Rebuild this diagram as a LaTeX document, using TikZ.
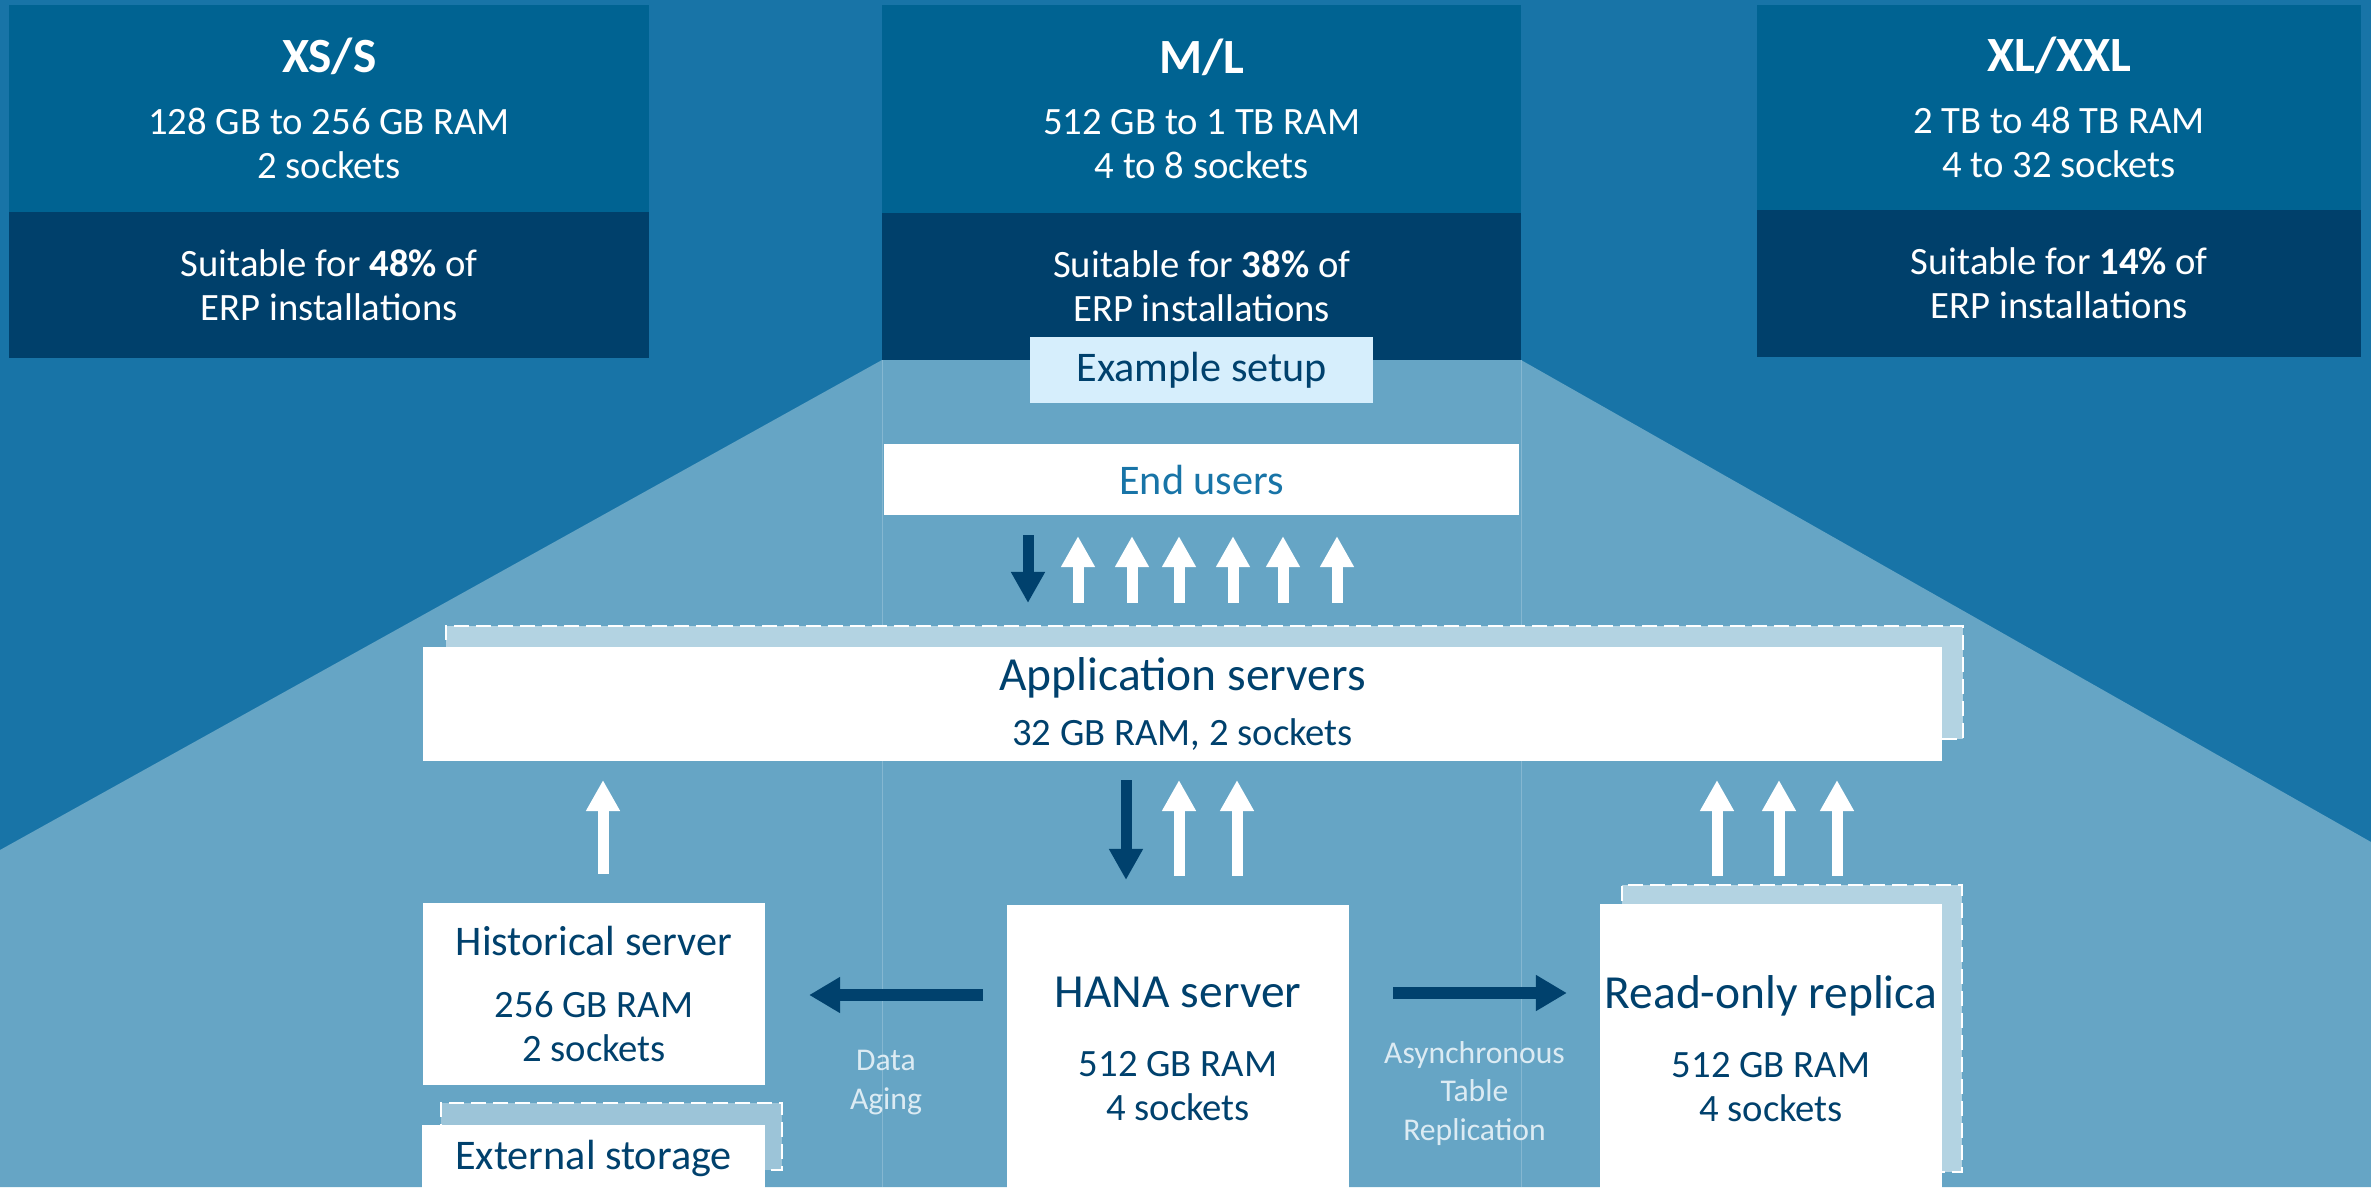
\documentclass[tikz,border=0pt]{standalone}
\usepackage{fontspec}
\setmainfont{Carlito}
\usetikzlibrary{positioning,arrows.meta}

\definecolor{bgblue}{HTML}{1874A7}
\definecolor{funnel}{HTML}{66A5C5}
\definecolor{sizetop}{HTML}{006392}
\definecolor{sizebot}{HTML}{00406B}
\definecolor{navy}{HTML}{00416D}
\definecolor{backbox}{HTML}{B3D3E2}
\definecolor{extback}{HTML}{9CC4D8}
\definecolor{setupfill}{HTML}{D6EEFC}
\definecolor{notecol}{HTML}{DCEBF3}

\begin{document}
\begin{tikzpicture}[x=0.01cm,y=-0.01cm,
    sizehead/.style={fill=sizetop, text=white, align=center, inner sep=0pt, outer sep=0pt, anchor=north west, font=\fontsize{11}{12.5}\selectfont},
    sizefoot/.style={fill=sizebot, text=white, align=center, inner sep=0pt, outer sep=0pt, font=\fontsize{11}{12.5}\selectfont},
    srv/.style={fill=white, text=navy, align=center, inner sep=0pt, outer sep=0pt, font=\fontsize{11}{12.5}\selectfont},
    srvback/.style={fill=backbox, draw=white, line width=0.02cm, dash pattern=on 0.15cm off 0.07cm, inner sep=0pt, outer sep=0pt},
    uparr/.style={draw=white, line width=0.11cm, -{Triangle[width=0.32cm,length=0.31cm]}},
    downarr/.style={draw=navy, line width=0.11cm, -{Triangle[width=0.32cm,length=0.31cm]}},
    sidearr/.style={draw=navy, line width=0.12cm, -{Triangle[width=0.34cm,length=0.31cm]}},
    note/.style={text=notecol, align=center, inner sep=0pt, font=\fontsize{9}{11}\selectfont}]
    \useasboundingbox (0,0) rectangle (2371,1187);
    \clip (0,0) rectangle (2371,1187);
    \fill[bgblue] (0,0) rectangle (2371,1187);
    \fill[funnel] (0,850) -- (882,360) -- (1521,360) -- (2371,842) -- (2371,1187) -- (0,1187) -- cycle;
    \draw[funnel!80!white, line width=0.01cm] (882,360) -- (882,1187) (1521,360) -- (1521,1187);

    \node [sizehead, minimum width=6.4cm, minimum height=2.07cm] (xshead) at (9,5) {{\fontsize{14}{17}\bfseries XS/S}\\[5pt]128 GB to 256 GB RAM\\2 sockets};
    \node [sizefoot, minimum width=6.4cm, minimum height=1.46cm, below=0pt of xshead] (xsfoot) {Suitable for \textbf{48\%} of\\ERP installations};
    \node [sizehead, minimum width=6.39cm, minimum height=2.08cm] (mlhead) at (882,5) {{\fontsize{14}{17}\bfseries M/L}\\[5pt]512 GB to 1 TB RAM\\4 to 8 sockets};
    \node [sizefoot, minimum width=6.39cm, minimum height=1.47cm, below=0pt of mlhead] (mlfoot) {Suitable for \textbf{38\%} of\\ERP installations};
    \node [sizehead, minimum width=6.04cm, minimum height=2.05cm] (xlhead) at (1757,5) {{\fontsize{14}{17}\bfseries XL/XXL}\\[5pt]2 TB to 48 TB RAM\\4 to 32 sockets};
    \node [sizefoot, minimum width=6.04cm, minimum height=1.47cm, below=0pt of xlhead] (xlfoot) {Suitable for \textbf{14\%} of\\ERP installations};

    \node [fill=setupfill, text=navy, minimum width=3.43cm, minimum height=0.66cm, font=\fontsize{12}{14}\selectfont, below=-0.24cm of mlfoot] (setup) {Example setup};
    \node [fill=white, text=bgblue, minimum width=6.35cm, minimum height=0.71cm, font=\fontsize{12}{14}\selectfont, below=0.40cm of setup] (users) {End users};

    \node [srvback, minimum width=15.17cm, minimum height=1.13cm] (appback) at (1204.5,682.5) {};
    \node [srv, minimum width=15.19cm, minimum height=1.14cm] (app) at ([xshift=-0.22cm,yshift=-0.215cm]appback.center) {{\fontsize{13.5}{16}\selectfont Application servers}\\[3pt]32 GB RAM, 2 sockets};

    \node [srv, minimum width=3.42cm, minimum height=1.82cm] (hist) at (594,994) {{\fontsize{12}{14}\selectfont Historical server}\\[5pt]256 GB RAM\\2 sockets};
    \node [srvback, fill=extback, minimum width=3.41cm, minimum height=0.67cm] (extback) at (611.5,1136.5) {};
    \node [srv, minimum width=3.43cm, minimum height=0.67cm, font=\fontsize{12}{14}\selectfont] (ext) at ([xshift=-0.18cm,yshift=-0.22cm]extback.center) {External storage};

    \node [srv, minimum width=3.42cm, minimum height=2.88cm] (hana) at (1178,1049) {{\fontsize{13.5}{16}\selectfont HANA server}\\[7pt]512 GB RAM\\4 sockets};
    \node [srvback, minimum width=3.40cm, minimum height=2.87cm] (repback) at (1792,1028.5) {};
    \node [srv, minimum width=3.42cm, minimum height=2.88cm] (rep) at ([xshift=-0.21cm,yshift=-0.20cm]repback.center) {{\fontsize{13.5}{16}\selectfont Read-only replica}\\[7pt]512 GB RAM\\4 sockets};

    \draw [downarr, shorten <=0.19cm, shorten >=0.44cm] (users.south -| 1028,0) -- (app.north -| 1028,0);
    \foreach \x in {1078,1132,1179,1233,1283,1337}
        \draw [uparr, shorten <=0.44cm, shorten >=0.20cm] (app.north -| \x,0) -- (users.south -| \x,0);

    \draw [uparr, shorten <=0.29cm, shorten >=0.19cm] (hist.north -| 603,0) -- (app.south -| 603,0);
    \draw [downarr, shorten <=0.19cm, shorten >=0.25cm] (app.south -| 1126,0) -- (hana.north -| 1126,0);
    \foreach \x in {1179,1237}
        \draw [uparr, shorten <=0.29cm, shorten >=0.19cm] (hana.north -| \x,0) -- (app.south -| \x,0);
    \foreach \x in {1717,1779,1837}
        \draw [uparr, shorten <=0.285cm, shorten >=0.19cm] (rep.north -| \x,0) -- (app.south -| \x,0);

    \draw [sidearr, shorten <=0.24cm, shorten >=0.44cm] (hana.west |- 0,995) -- node [note, below=0.49cm] {Data\\Aging} (hist.east |- 0,995);
    \draw [sidearr, shorten <=0.44cm, shorten >=0.33cm] (hana.east |- 0,993) -- node [note, below=0.42cm] {Asynchronous\\Table\\Replication} (rep.west |- 0,993);
\end{tikzpicture}
\end{document}
